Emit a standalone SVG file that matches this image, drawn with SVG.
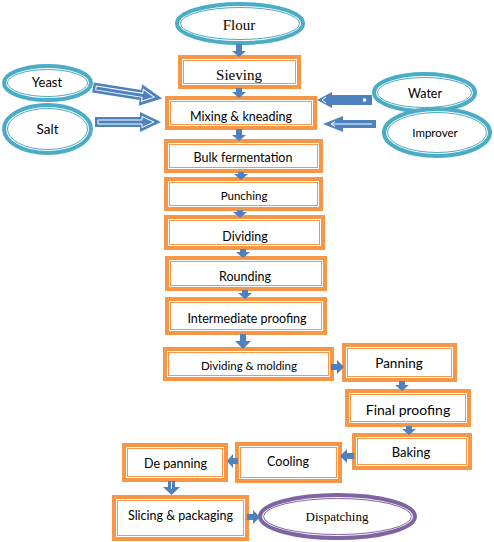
<svg xmlns="http://www.w3.org/2000/svg" width="494" height="542" viewBox="0 0 494 542">
<style>
.bo{fill:#fff;stroke:#F79646;stroke-width:4}
.bi{fill:none;stroke:#F79646;stroke-width:1}
.eo{fill:#fff;stroke:#4BACC6;stroke-width:4}
.ei{fill:none;stroke:#4BACC6;stroke-width:1}
.po{fill:#fff;stroke:#8064A2;stroke-width:4}
.pi{fill:none;stroke:#8064A2;stroke-width:1}
.arr{fill:#4F81BD;stroke:none}
.wl{fill:none;stroke:#fff;stroke-width:1}
.s{font-family:Lato,"Liberation Sans",sans-serif;fill:#000;text-anchor:middle}
.t{font-family:"Liberation Serif",serif;fill:#000;text-anchor:middle}
</style>
<rect width="494" height="542" fill="#fff"/>

<g id="flour">
<ellipse class="eo" cx="240" cy="23.5" rx="63" ry="19.5"/>
<ellipse class="ei" cx="240" cy="23.5" rx="59.5" ry="16"/>
<text class="t" x="239" y="30" font-size="15">Flour</text>
</g>
<g id="yeast">
<ellipse class="eo" cx="47.5" cy="83" rx="43.5" ry="17"/>
<ellipse class="ei" cx="47.5" cy="83" rx="40" ry="13.5"/>
<text class="s" x="47" y="87" font-size="13">Yeast</text>
</g>
<g id="salt">
<ellipse class="eo" cx="47.5" cy="129" rx="43.5" ry="24"/>
<ellipse class="ei" cx="47.5" cy="129" rx="40" ry="20.5"/>
<text class="s" x="47.5" y="134" font-size="13.5">Salt</text>
</g>
<g id="water">
<ellipse class="eo" cx="424.5" cy="92.5" rx="50.5" ry="18.5"/>
<ellipse class="ei" cx="424.5" cy="92.5" rx="47" ry="15"/>
<text class="s" x="425" y="98" font-size="12.5">Water</text>
</g>
<g id="improver">
<ellipse class="eo" cx="437" cy="132.5" rx="53" ry="23.5"/>
<ellipse class="ei" cx="437" cy="132.5" rx="49.5" ry="20"/>
<text class="s" x="435" y="137" font-size="11.5">Improver</text>
</g>

<g id="sieving">
<rect class="bo" x="180" y="57" width="119" height="30"/>
<rect class="bi" x="183.5" y="60.5" width="112" height="23"/>
<text class="t" x="239" y="80" font-size="15">Sieving</text>
</g>
<g id="mixing">
<rect class="bo" x="167" y="98" width="148" height="30"/>
<rect class="bi" x="170.5" y="101.5" width="141" height="23"/>
<text class="s" x="241" y="121" font-size="12.5">Mixing &amp; kneading</text>
</g>
<g id="bulk">
<rect class="bo" x="166" y="141" width="155" height="30"/>
<rect class="bi" x="169.5" y="144.5" width="148" height="23"/>
<text class="s" x="243" y="162" font-size="12.5">Bulk fermentation</text>
</g>
<g id="punching">
<rect class="bo" x="166" y="179" width="155" height="30"/>
<rect class="bi" x="169.5" y="182.5" width="148" height="23"/>
<text class="s" x="244" y="200" font-size="11.5">Punching</text>
</g>
<g id="dividing">
<rect class="bo" x="166" y="217" width="157" height="31"/>
<rect class="bi" x="169.5" y="220.5" width="150" height="24"/>
<text class="s" x="245" y="241" font-size="12.5">Dividing</text>
</g>
<g id="rounding">
<rect class="bo" x="167" y="258" width="158" height="31"/>
<rect class="bi" x="170.5" y="261.5" width="151" height="24"/>
<text class="s" x="245" y="281" font-size="12.5">Rounding</text>
</g>
<g id="intermediate">
<rect class="bo" x="167" y="299" width="158" height="34"/>
<rect class="bi" x="170.5" y="302.5" width="151" height="27"/>
<text class="s" x="247" y="323" font-size="12.5">Intermediate proofing</text>
</g>
<g id="molding">
<rect class="bo" x="165" y="349" width="167" height="30"/>
<rect class="bi" x="168.5" y="352.5" width="160" height="23"/>
<text class="s" x="249" y="370" font-size="11.5">Dividing &amp; molding</text>
</g>
<g id="panning">
<rect class="bo" x="344" y="345" width="111" height="35"/>
<rect class="bi" x="347.5" y="348.5" width="104" height="28"/>
<text class="s" x="399" y="368" font-size="13.5">Panning</text>
</g>
<g id="final">
<rect class="bo" x="347" y="391" width="122" height="34"/>
<rect class="bi" x="350.5" y="394.5" width="115" height="27"/>
<text class="s" x="408" y="415" font-size="14">Final proofing</text>
</g>
<g id="baking">
<rect class="bo" x="354" y="435" width="116" height="33"/>
<rect class="bi" x="357.5" y="438.5" width="109" height="26"/>
<text class="s" x="411" y="457" font-size="13">Baking</text>
</g>
<g id="cooling">
<rect class="bo" x="237" y="444" width="103" height="37"/>
<rect class="bi" x="240.5" y="447.5" width="96" height="30"/>
<text class="s" x="288" y="466" font-size="12.5">Cooling</text>
</g>
<g id="depanning">
<rect class="bo" x="124" y="445" width="102" height="35"/>
<rect class="bi" x="127.5" y="448.5" width="95" height="28"/>
<text class="s" x="175.5" y="468" font-size="12.5">De panning</text>
</g>
<g id="slicing">
<rect class="bo" x="114" y="497" width="133" height="42"/>
<rect class="bi" x="117.5" y="500.5" width="126" height="35"/>
<text class="s" x="180.5" y="520" font-size="12.5">Slicing &amp; packaging</text>
</g>
<g id="dispatching">
<ellipse class="po" cx="337.5" cy="516.5" rx="77.5" ry="21.5"/>
<ellipse class="pi" cx="337.5" cy="516.5" rx="74" ry="18"/>
<text class="t" x="337" y="521" font-size="13">Dispatching</text>
</g>

<g id="connectors">
<polygon class="arr" points="236,44 242,44 242,51 246,51 239,57 232,51 236,51"/>
<polygon class="arr" points="236,88 242,88 242,92 246,92 239,98 232,92 236,92"/>
<polygon class="arr" points="236,129 242,129 242,135 246,135 239,141 232,135 236,135"/>
<polygon class="arr" points="238,172 244,172 244,174 248,174 241,180 234,174 238,174"/>
<polygon class="arr" points="237,210 243,210 243,212 247,212 240,218 233,212 237,212"/>
<polygon class="arr" points="240,249 246,249 246,252 250,252 243,258 236,252 240,252"/>
<polygon class="arr" points="242,290 248,290 248,293 252,293 245,299 238,293 242,293"/>
<polygon class="arr" points="240,334 246,334 246,341 251,341 243,349 235,341 240,341"/>
<polygon class="arr" points="399,381 405,381 405,385 409,385 402,391 395,385 399,385"/>
<polygon class="arr" points="406,426 412,426 412,429 416,429 409,435 402,429 406,429"/>
<polygon class="arr" points="331,364 337,364 337,360 344,367 337,374 337,370 331,370"/>
<polygon class="arr" points="354,453 347,453 347,449 340,456 347,463 347,459 354,459"/>
<polygon class="arr" points="238,458 233,458 233,454 227,461 233,468 233,464 238,464"/>
<polygon class="arr" points="247,514 253,514 253,510 260,517 253,524 253,520 247,520"/>
<polygon class="arr" points="168,481 175,481 175,487 180,487 171.5,495 163,487 168,487"/>
<line class="wl" x1="171.5" y1="482" x2="171.5" y2="489"/>
<g transform="translate(93,87.5) rotate(9)">
<polygon class="arr" points="0,-5 48,-5 48,-11 70,0 48,11 48,5 0,5"/>
<polygon class="wl" points="3,-2 50,-2 50,-6 62,0 50,6 50,2 3,2"/>
</g>
<g transform="translate(95,122)">
<polygon class="arr" points="0,-5 45,-5 45,-10 66,0 45,10 45,5 0,5"/>
<polygon class="wl" points="3,-2 47,-2 47,-5.5 59,0 47,5.5 47,2 3,2"/>
</g>
<g transform="translate(372,100) rotate(180)">
<polygon class="arr" points="0,-5 40,-5 40,-8 55,0 40,8 40,5 0,5"/>
<rect x="6" y="-1.5" width="3" height="3" fill="#fff"/>
<polyline class="wl" points="46,-3 50,0 46,3"/>
</g>
<g transform="translate(376,124) rotate(180)">
<polygon class="arr" points="0,-4 33,-4 33,-8 53,0 33,8 33,4 0,4"/>
<polyline class="wl" points="4,0 44,0"/>
<polyline class="wl" points="41,-2.5 45,0 41,2.5"/>
</g>
</g>
</svg>
